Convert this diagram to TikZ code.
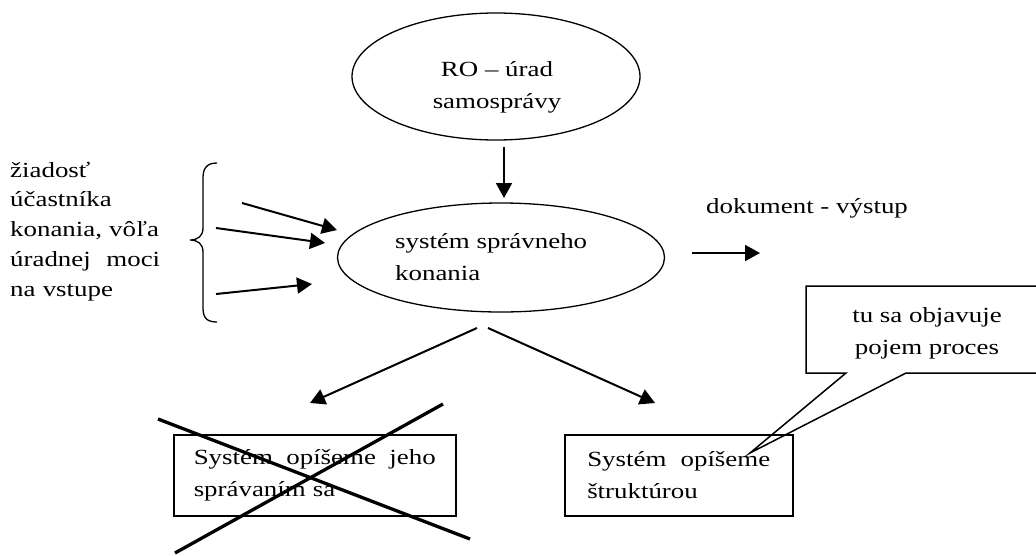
\documentclass[tikz,border=0pt]{standalone}
\usepackage{fontspec}
\setmainfont{Liberation Serif}[FakeStretch=1.245]
\usetikzlibrary{arrows.meta,shapes.geometric}
\begin{document}
\begin{tikzpicture}[x=1pt,y=-1pt,
  txt/.style={font=\fontsize{21.6}{31.7}\selectfont, inner sep=0pt},
  oval/.style={draw, ellipse, line width=1.3pt, inner sep=0pt},
  box/.style={draw, rectangle, line width=1.5pt, inner ysep=0pt,
    font=\fontsize{21.6}{31.7}\selectfont, align=left},
  arr/.style={line width=2pt, -{Triangle[length=15pt,width=16pt]}},
  cross/.style={line width=3.3pt},
  thinline/.style={line width=1.3pt}]
\useasboundingbox (0,0) rectangle (1036,555);
\clip (0,0) rectangle (1036,555);

% the authority and the administrative procedure
% (base of an aligned multi-line node = baseline of its last line;
%  with a text width it is the baseline of its first line)
\node[oval, minimum width=288pt, minimum height=127pt] (ro) at (496,76.5) {};
\node[txt, align=center, anchor=base] (rotext) at (497,108.5) {RO – úrad\\samosprávy};
\node[oval, minimum width=327pt, minimum height=109pt] (sys) at (501,257.5) {};
\node[txt, align=left, anchor=base west] (systext) at (395,280) {systém správneho\\konania};
\draw[arr] (504,147) coordinate (roout) -- (504,198) coordinate (sysin);

% inputs
\node[txt, font=\fontsize{21.6}{29.8}\selectfont, text width=150pt, align=left,
  anchor=base west] (input) at (10,177)
  {žiadosť\\účastníka\\konania, vôľa\\úradnej\hfill moci\\na vstupe};
\draw[thinline] (217,163) .. controls (207,163) and (203,168) .. (203,178)
  -- (203,228) .. controls (203,236) and (198,240) .. (190,240)
  .. controls (198,240) and (203,244) .. (203,252)
  -- (203,308) .. controls (203,318) and (207,322) .. (217,322);
\coordinate (i1) at (242,203); \coordinate (t1) at (337,230);
\coordinate (i2) at (216,228); \coordinate (t2) at (325,243);
\coordinate (i3) at (216,294); \coordinate (t3) at (312,284);
\draw[arr] (i1) -- (t1);
\draw[arr] (i2) -- (t2);
\draw[arr] (i3) -- (t3);

% output
\node[txt, anchor=base west] (doc) at (706,213) {dokument - výstup};
\coordinate (o1) at (692,253); \coordinate (o2) at (760,253);
\draw[arr] (o1) -- (o2);

% two ways of describing the system
\node[box, text width=242pt, inner xsep=20pt, minimum height=81pt, anchor=north west]
  (beh) at (173,434) {Systém\hfill opíšeme\hfill jeho\\správaním sa};
\node[box, text width=183pt, inner xsep=22.5pt, minimum height=81pt, anchor=north west]
  (str) at (564,434) {Systém\hfill opíšeme\\štruktúrou};
\coordinate (sl) at (477,328); \coordinate (tl) at (310,403);
\coordinate (sr) at (488,328); \coordinate (tr) at (655,403);
\draw[arr] (sl) -- (tl);
\draw[arr] (sr) -- (tr);

% crossed out
\draw[cross] (158,419) -- (470,539);
\draw[cross] (443,404) -- (175,553);

% callout
\node[txt, align=center, anchor=base] (note) at (927,354) {tu sa objavuje\\pojem proces};
\coordinate (tip) at (750,453);
\draw[line width=1.5pt, line join=miter] (806,286) -- (1060,286) -- (1060,373)
  -- (906,373) -- (tip) -- (846,373) -- (806,373) -- cycle;
\end{tikzpicture}
\end{document}
